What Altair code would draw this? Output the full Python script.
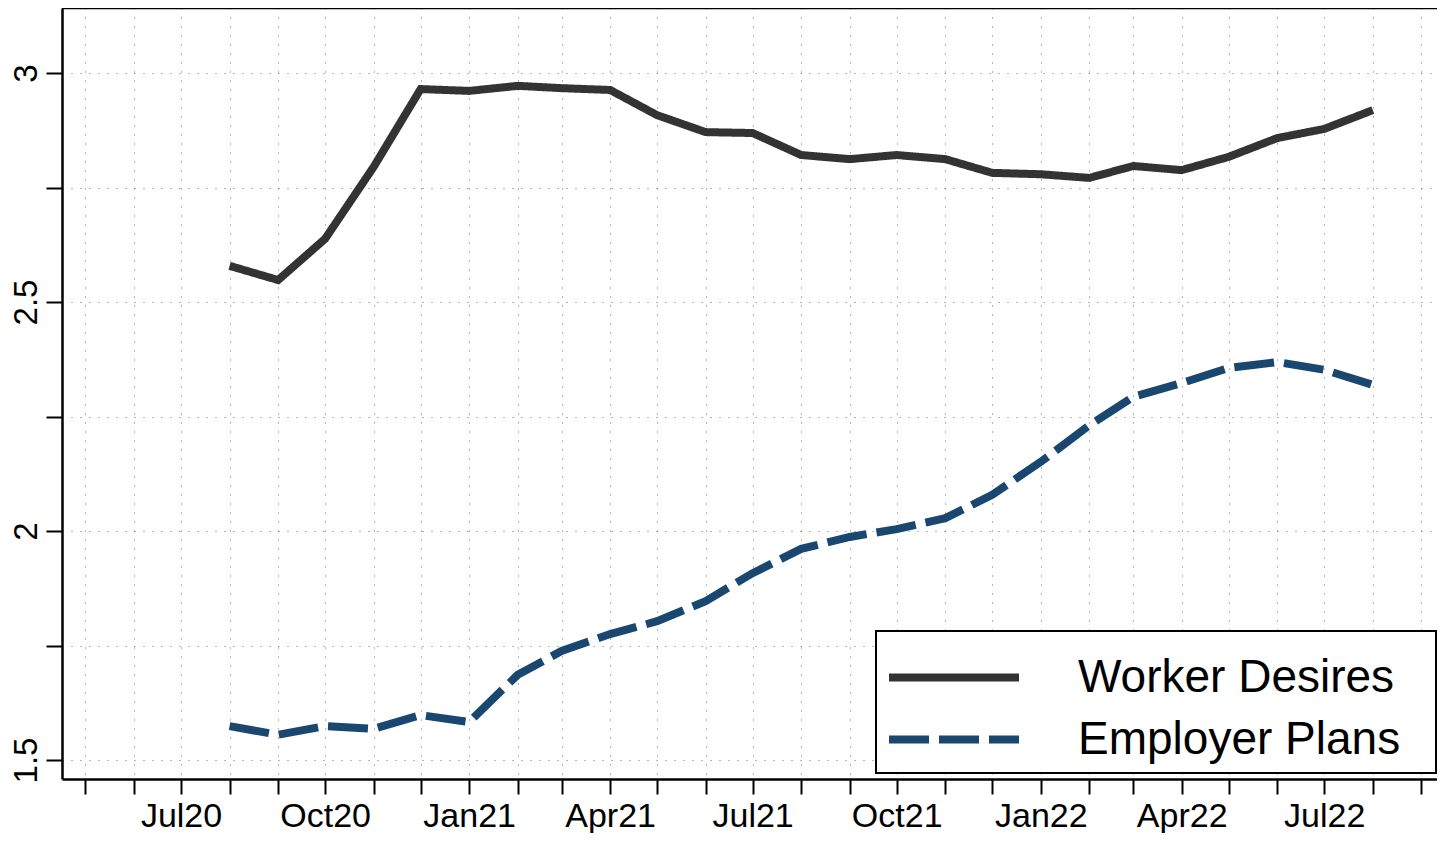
import altair as alt
import pandas as pd

dates = [
    "2020-08-01", "2020-09-01", "2020-10-01", "2020-11-01", "2020-12-01",
    "2021-01-01", "2021-02-01", "2021-03-01", "2021-04-01", "2021-05-01",
    "2021-06-01", "2021-07-01", "2021-08-01", "2021-09-01", "2021-10-01",
    "2021-11-01", "2021-12-01", "2022-01-01", "2022-02-01", "2022-03-01",
    "2022-04-01", "2022-05-01", "2022-06-01", "2022-07-01", "2022-08-01",
]
worker_desires = [
    2.579, 2.548, 2.638, 2.795, 2.965,
    2.961, 2.972, 2.967, 2.963, 2.908,
    2.871, 2.869, 2.821, 2.812, 2.821,
    2.812, 2.782, 2.779, 2.771, 2.797,
    2.788, 2.817, 2.858, 2.878, 2.919,
]
employer_plans = [
    1.574, 1.555, 1.574, 1.568, 1.598,
    1.583, 1.686, 1.738, 1.775, 1.803,
    1.847, 1.908, 1.961, 1.987, 2.004,
    2.028, 2.079, 2.151, 2.231, 2.293,
    2.323, 2.356, 2.369, 2.352, 2.319,
]
series_names = ["Worker Desires", "Employer Plans"]
series_colors = ["#333333", "#1a476f"]
y_ticks = [1.5, 1.75, 2.0, 2.25, 2.5, 2.75, 3.0]

rows = []
for d, w, e in zip(dates, worker_desires, employer_plans):
    rows.append({"date": d + "T00:00:00", "series": series_names[0], "value": w})
    rows.append({"date": d + "T00:00:00", "series": series_names[1], "value": e})
df = pd.DataFrame(rows)

FONT = "Liberation Sans"
GRID_COLOR = "#707070"
TRAIL = "\u00a0\u00a0\u200b"

legend = alt.Legend(
    title=None,
    orient="none",
    legendX=814,
    legendY=623,
    padding=10,
    strokeColor="black",
    fillColor="white",
    symbolType="M-1,0H3",
    symbolSize=4225,
    symbolStrokeWidth=8,
    symbolOffset=-1,
    labelFontSize=46,
    labelFont=FONT,
    labelColor="black",
    labelOffset=120,
    labelLimit=800,
    rowPadding=2,
    labelExpr="datum.label + '" + TRAIL + "'",
)

lines = alt.Chart(df).mark_line(strokeWidth=8, strokeCap="butt").encode(
    x=alt.X(
        "date:T",
        title=None,
        scale=alt.Scale(
            domain=[alt.DateTime(year=2020, month=4, date=16),
                    alt.DateTime(year=2022, month=9, date=11)]
        ),
        axis=alt.Axis(
            tickCount={"interval": "month", "step": 1},
            labelExpr="month(datum.value) % 3 == 0 ? timeFormat(datum.value, '%b%y') : ''",
            labelOverlap=False,
            labelFlush=False,
            labelFontSize=34,
            labelFont=FONT,
            labelColor="black",
            labelBaseline="alphabetic",
            labelPadding=32,
            tickSize=15,
            tickWidth=2,
            tickColor="black",
            domainColor="black",
            domainWidth=2.5,
            grid=True,
            gridColor=GRID_COLOR,
            gridDash=[1, 8],
            gridWidth=1,
        ),
    ),
    y=alt.Y(
        "value:Q",
        title=None,
        scale=alt.Scale(domain=[1.4585, 3.142], nice=False, zero=False),
        axis=alt.Axis(
            values=y_ticks,
            format="~g",
            labelExpr="datum.value % 0.5 == 0 ? datum.label : ''",
            labelAngle=270,
            labelAlign="center",
            labelBaseline="alphabetic",
            labelFontSize=33,
            labelFont=FONT,
            labelColor="black",
            labelPadding=10,
            labelOverlap=False,
            tickSize=16,
            tickWidth=2,
            tickColor="black",
            domainColor="black",
            domainWidth=2.5,
            grid=True,
            gridColor=GRID_COLOR,
            gridDash=[1, 8],
            gridWidth=1,
        ),
    ),
    color=alt.Color(
        "series:N",
        scale=alt.Scale(domain=series_names, range=series_colors),
        sort=series_names,
        legend=legend,
    ),
    strokeDash=alt.StrokeDash(
        "series:N",
        scale=alt.Scale(domain=series_names, range=[[1, 0], [40, 10]]),
        sort=series_names,
        legend=legend,
    ),
)

top_border = alt.Chart(pd.DataFrame({"edge": ["top"]})).mark_rule(
    color="black", strokeWidth=2.5
).encode(y=alt.value(0))

chart = alt.layer(lines, top_border).properties(
    width=1375,
    height=771,
    autosize=alt.AutoSizeParams(type="none"),
    padding={"left": 54, "top": 0, "right": 0, "bottom": 54},
).configure_view(
    strokeWidth=0,
).configure_legend(
    strokeWidth=2,
)

chart.save("out.html", embed_options={"renderer": "svg", "actions": False})
